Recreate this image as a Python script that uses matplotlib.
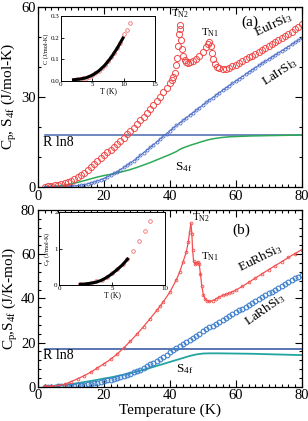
import matplotlib as mpl
mpl.use('Agg')
import matplotlib.pyplot as plt
from matplotlib.ticker import MultipleLocator
import numpy as np

plt.rcParams['font.family'] = ['Liberation Serif', 'DejaVu Serif']
plt.rcParams['mathtext.fontset'] = 'custom'
plt.rcParams['mathtext.rm'] = 'Liberation Serif'
plt.rcParams['mathtext.it'] = 'Liberation Serif:italic'

# ---- panel (a): EuIrSi3 / LaIrSi3 ----
T_euir = [2, 3, 4, 5, 6, 7, 8, 9, 10, 11, 12, 13, 14, 15, 16, 17, 18, 19, 20,
          21, 22, 23, 24, 25, 26, 27, 28, 29, 30, 31, 32, 33, 34, 35, 36, 37, 38,
          39, 40, 40.5, 41, 41.5, 42, 42.3, 42.6, 42.8, 43.0, 43.2, 43.4, 43.7,
          44.0, 44.5, 45, 45.5, 46, 47, 48, 49, 50, 51, 51.5, 52, 52.4, 52.8,
          53.2, 53.7, 54.2, 55, 56, 57, 58, 59, 60, 61, 62, 63, 64, 65, 66, 67,
          68, 69, 70, 71, 72, 73, 74, 75, 76, 77, 78, 79, 80]
C_euir = [0.1, 0.2, 0.35, 0.5, 0.7, 0.95, 1.25, 1.6, 2.0, 2.6, 3.3, 4.0, 4.8,
          5.6, 6.5, 7.5, 8.6, 9.6, 10.6, 11.5, 12.4, 13.4, 14.4, 15.4, 16.4,
          17.5, 18.7, 19.8, 21.0, 22.2, 23.4, 24.6, 25.9, 27.2, 28.6, 30.0,
          31.5, 33.0, 34.6, 35.5, 36.6, 38.0, 40.5, 43.0, 47.0, 51.0, 54.0,
          52.5, 49.0, 46.0, 43.5, 42.2, 41.6, 41.4, 41.5, 42.0, 42.8, 43.8,
          45.0, 46.5, 47.5, 48.2, 47.0, 44.5, 42.5, 41.0, 40.1, 39.5, 39.3,
          39.4, 39.8, 40.3, 40.8, 41.4, 42.0, 42.6, 43.2, 43.8, 44.4, 45.0,
          45.6, 46.3, 46.9, 47.6, 48.2, 48.9, 49.6, 50.3, 51.0, 51.8, 52.6,
          53.4, 54.2]

T_lair = list(range(2, 81))
C_lair = [0.0, 0.01, 0.02, 0.03, 0.05, 0.08, 0.12, 0.18, 0.25, 0.34, 0.45, 0.6,
          0.8, 1.03, 1.3, 1.62, 2.0, 2.38, 2.8, 3.33, 3.9, 4.48, 5.1, 5.78, 6.5,
          7.23, 8.0, 8.78, 9.6, 10.5, 11.4, 12.3, 13.2, 14.1, 15.0, 15.95, 16.9,
          17.8, 18.7, 19.6, 20.5, 21.35, 22.2, 23.05, 23.9, 24.75, 25.6, 26.45,
          27.3, 28.15, 29.0, 29.8, 30.6, 31.4, 32.2, 33.0, 33.8, 34.55, 35.3,
          36.05, 36.8, 37.55, 38.3, 39.05, 39.8, 40.5, 41.2, 41.9, 42.6, 43.3,
          44.0, 44.7, 45.4, 46.1, 46.8, 47.5, 48.2, 48.9, 49.6]

T_s4f_a = [2, 5, 8, 10, 12, 14, 16, 18, 20, 22, 24, 26, 28, 30, 32, 34, 36, 38,
           40, 42, 43, 44, 46, 48, 50, 52, 54, 56, 58, 60, 65, 70, 75, 80]
S_4f_a = [0, 0.2, 0.6, 1.0, 1.5, 2.1, 2.7, 3.3, 3.8, 4.2, 4.7, 5.2, 5.8, 6.5,
          7.3, 8.1, 9.0, 9.9, 10.8, 11.8, 12.5, 13.0, 13.8, 14.5, 15.2, 15.8,
          16.2, 16.5, 16.7, 16.8, 17.0, 17.1, 17.2, 17.3]

T_in_a = [2, 2.5, 3, 3.5, 4, 4.5, 5, 5.5, 6, 6.5, 7, 7.5, 8, 8.5, 9, 9.5,
          10.1, 10.6, 11.1]
C_in_a = [0.006, 0.007, 0.009, 0.011, 0.015, 0.02, 0.027, 0.035, 0.046, 0.058,
          0.073, 0.09, 0.11, 0.13, 0.153, 0.176, 0.215, 0.237, 0.269]
T_fit_a = [2, 3, 4, 5, 6, 7, 8, 9, 9.9]
C_fit_a = [0.005, 0.008, 0.014, 0.026, 0.045, 0.072, 0.108, 0.152, 0.198]

# ---- panel (b): EuRhSi3 / LaRhSi3 ----
T_eurh = [2, 4, 6, 8, 10, 12, 14, 16, 18, 20, 22, 24, 26, 28, 30, 32, 34, 36,
          37, 38, 40, 42, 43, 44, 45, 45.6, 46.0, 46.4, 46.7, 46.9, 47.2, 47.6,
          48.0, 48.5, 48.9, 49.3, 49.7, 50.2, 50.8, 51.4, 52, 53, 54, 55, 56,
          57, 58, 59, 60, 62, 64, 66, 68, 70, 72, 74, 76, 78, 80]
C_eurh = [0.1, 0.2, 0.5, 1.1, 2.3, 3.6, 5.0, 6.6, 8.5, 10.4, 12.4, 14.8, 17.6,
          20.6, 23.8, 27.2, 30.8, 34.5, 36.4, 38.5, 42.8, 48.5, 52.0, 56.5,
          61.0, 65.5, 70.0, 74.0, 69.0, 62.0, 57.0, 55.5, 56.0, 56.5, 55.5,
          51.0, 45.5, 41.5, 39.5, 38.8, 38.6, 39.0, 39.7, 40.6, 41.3, 41.8,
          42.4, 43.0, 43.7, 45.4, 47.3, 49.2, 51.1, 53.0, 54.8, 56.6, 58.5,
          60.3, 62.0]

T_larh = list(range(2, 81))
C_larh = [0.0, 0.02, 0.05, 0.07, 0.1, 0.15, 0.2, 0.27, 0.35, 0.47, 0.6, 0.75,
          0.9, 1.1, 1.3, 1.55, 1.8, 2.15, 2.5, 2.85, 3.2, 3.6, 4.0, 4.45, 4.9,
          5.4, 5.9, 6.45, 7.0, 7.75, 8.5, 9.3, 10.1, 10.95, 11.8, 12.7, 13.6,
          14.55, 15.5, 16.45, 17.4, 18.3, 19.2, 20.2, 21.2, 22.15, 23.1, 24.05,
          25.0, 25.9, 26.8, 27.7, 28.6, 29.45, 30.3, 31.15, 32.0, 32.85, 33.7,
          34.55, 35.4, 36.25, 37.1, 37.95, 38.8, 39.65, 40.5, 41.35, 42.2,
          43.05, 43.9, 44.75, 45.6, 46.45, 47.3, 48.15, 49.0, 49.85, 50.7]

T_s4f_b = [2, 5, 8, 10, 12, 14, 16, 18, 20, 22, 24, 26, 28, 30, 32, 34, 36, 38,
           40, 42, 44, 46, 48, 50, 52, 55, 60, 65, 70, 75, 80]
S_4f_b = [0, 0.3, 0.8, 1.2, 1.6, 2.1, 2.6, 3.1, 3.7, 4.2, 4.8, 5.4, 6.1, 6.9,
          7.7, 8.5, 9.4, 10.3, 11.2, 12.1, 13.0, 13.9, 14.6, 15.0, 15.1, 15.1,
          15.0, 14.9, 14.7, 14.5, 14.3]

T_in_b = [2, 2.5, 3, 3.5, 4, 4.5, 5, 5.5, 6, 6.45, 6.95, 7.55, 8.08, 8.6]
C_in_b = [0.03, 0.04, 0.06, 0.1, 0.15, 0.23, 0.33, 0.45, 0.58, 0.71, 0.945,
          1.2, 1.48, 1.77]
T_fit_b = [2, 2.5, 3, 3.5, 4, 4.5, 5, 5.5, 6, 6.45]
C_fit_b = [0.02, 0.03, 0.05, 0.08, 0.13, 0.21, 0.31, 0.43, 0.56, 0.71]

R_ln8 = 8.314 * np.log(8)

fig = plt.figure(figsize=(3.08, 4.21), dpi=100)
axa = fig.add_axes([0.124, 0.556, 0.855, 0.4276])
axb = fig.add_axes([0.124, 0.0815, 0.855, 0.4197])


def style(ax, ymaj, ymin, fs=10.5):
    ax.set_xlim(0, 80)
    ax.xaxis.set_major_locator(MultipleLocator(20))
    ax.xaxis.set_minor_locator(MultipleLocator(2))
    ax.yaxis.set_major_locator(MultipleLocator(ymaj))
    ax.yaxis.set_minor_locator(MultipleLocator(ymin))
    ax.tick_params(which='both', direction='in', top=True, right=True,
                   labelsize=fs, width=0.8)
    ax.tick_params(which='major', length=5, pad=2)
    ax.tick_params(which='minor', length=2.5)
    for s in ax.spines.values():
        s.set_linewidth(0.9)


# panel (a)
axa.plot([2, 80], [R_ln8, R_ln8], color='#4a68b0', lw=1.1)
axa.plot(T_s4f_a, S_4f_a, color='#2eaa55', lw=1.1)
axa.plot(T_lair, C_lair, '-o', color='#5070c8', lw=0.7, ms=2.2, mfc='none',
         mew=0.6)
axa.plot(T_euir, C_euir, 'o', color='#f04848', ms=4.4, mfc='none', mew=0.7)
style(axa, 30, 10)
axa.set_ylim(0, 60)
axa.set_ylabel(r'C$_\mathrm{p}$, S$_\mathrm{4f}$ (J/mol-K)', fontsize=11,
               labelpad=1)
axa.text(64.3, 55, '(a)', fontsize=11, ha='center', va='center')
axa.text(43.1, 57.7, r'T$_\mathrm{N2}$', fontsize=8, ha='center', va='center')
axa.text(52.2, 51.3, r'T$_\mathrm{N1}$', fontsize=8, ha='center', va='center')
axa.text(71.5, 53.8, r'EuIrSi$_3$', fontsize=9.5, ha='center', va='center',
         rotation=25)
axa.text(73.5, 38.3, r'LaIrSi$_3$', fontsize=9.5, ha='center', va='center',
         rotation=33)
axa.text(1.5, 14.7, 'R ln8', fontsize=10, ha='left', va='center')
axa.text(44.3, 6.7, r'S$_\mathrm{4f}$', fontsize=9.5, ha='center', va='center')

ina = fig.add_axes([0.198, 0.808, 0.305, 0.154])
ina.plot(T_in_a, C_in_a, 'o', color='#f07070', ms=2.6, mfc='none', mew=0.6)
ina.plot(T_fit_a, C_fit_a, '-', color='black', lw=2.2)
ina.set_xlim(0, 15)
ina.set_ylim(0, 0.3)
ina.xaxis.set_major_locator(MultipleLocator(5))
ina.yaxis.set_major_locator(MultipleLocator(0.1))
ina.yaxis.set_major_formatter(mpl.ticker.FormatStrFormatter('%.1f'))
ina.tick_params(direction='in', labelsize=5, length=2, pad=1, width=0.6)
ina.set_xlabel('T (K)', fontsize=5.5, labelpad=0)
ina.set_ylabel('C (J/mol-K)', fontsize=4.5, labelpad=1)
for s in ina.spines.values():
    s.set_linewidth(0.7)

# panel (b)
axb.plot([2, 80], [R_ln8, R_ln8], color='#2e4f9c', lw=1.1)
axb.plot(T_s4f_b, S_4f_b, color='#22a5a0', lw=1.3)
axb.plot(T_larh, C_larh, 'o', color='#3d7fcc', ms=3.4, mfc='none', mew=0.8)
axb.plot(T_eurh, C_eurh, '-o', color='#f25050', lw=0.9, ms=2.0, mfc='none',
         mew=0.6)
style(axb, 20, 4)
axb.set_ylim(0, 80)
axb.set_xlabel('Temperature (K)', fontsize=11, labelpad=1)
axb.set_ylabel(r'C$_\mathrm{p}$,S$_\mathrm{4f}$ (J/K-mol)', fontsize=11,
               labelpad=1)
axb.text(61.6, 71, '(b)', fontsize=11, ha='center', va='center')
axb.text(49.5, 76.3, r'T$_\mathrm{N2}$', fontsize=8, ha='center', va='center')
axb.text(52.2, 58.7, r'T$_\mathrm{N1}$', fontsize=8, ha='center', va='center')
axb.text(67.5, 58.3, r'EuRhSi$_3$', fontsize=9.5, ha='center', va='center',
         rotation=26)
axb.text(69, 35.0, r'LaRhSi$_3$', fontsize=9.5, ha='center', va='center',
         rotation=35)
axb.text(1.5, 13.9, 'R ln8', fontsize=10, ha='left', va='center')
axb.text(44.6, 8.0, r'S$_\mathrm{4f}$', fontsize=9.5, ha='center', va='center')

inb = fig.add_axes([0.192, 0.323, 0.344, 0.173])
inb.plot(T_in_b, C_in_b, 'o', color='#f07070', ms=2.6, mfc='none', mew=0.6)
inb.plot(T_fit_b, C_fit_b, '-', color='black', lw=2.2)
inb.set_xlim(0, 10)
inb.set_ylim(0, 2)
inb.xaxis.set_major_locator(MultipleLocator(5))
inb.yaxis.set_major_locator(MultipleLocator(1))
inb.tick_params(direction='in', labelsize=5, length=2, pad=1, width=0.6)
inb.set_xlabel('T (K)', fontsize=5.5, labelpad=0)
inb.set_ylabel(r'C$_\mathrm{p}$ (J/mol-K)', fontsize=4.5, labelpad=1)
for s in inb.spines.values():
    s.set_linewidth(0.7)

fig.savefig('out.png', dpi=100)
